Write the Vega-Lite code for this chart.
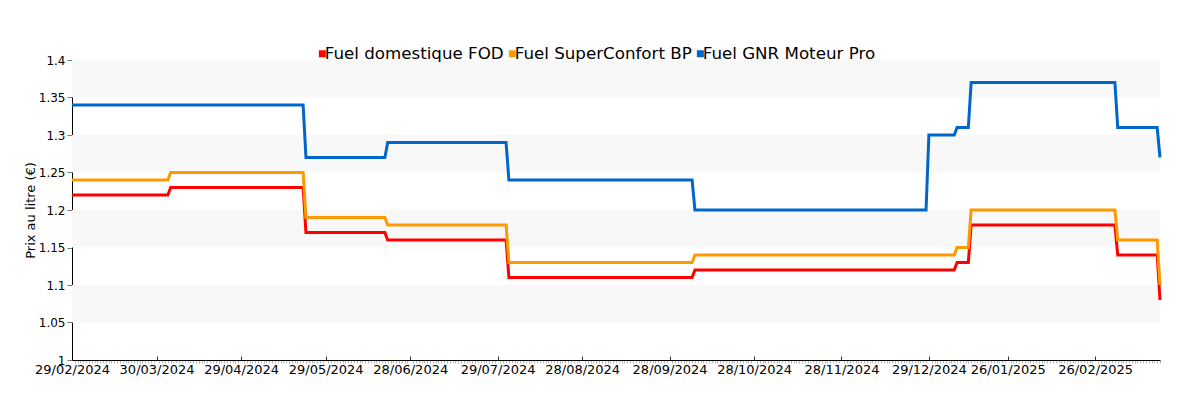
{
  "$schema": "https://vega.github.io/schema/vega-lite/v6.json",
  "width": 1088,
  "height": 300,
  "autosize": {"type": "none"},
  "padding": {"left": 72, "top": 60, "right": 40, "bottom": 40},
  "background": "white",
  "config": {"view": {"stroke": null}, "font": "DejaVu Sans"},
  "datasets": {
    "bands": [
      {"lo": 1.05, "hi": 1.1},
      {"lo": 1.15, "hi": 1.2},
      {"lo": 1.25, "hi": 1.3},
      {"lo": 1.35, "hi": 1.4}
    ],
    "prices": [
      {"date": "2024-02-29", "series": "Fuel domestique FOD", "price": 1.22},
      {"date": "2024-04-03", "series": "Fuel domestique FOD", "price": 1.22},
      {"date": "2024-04-04", "series": "Fuel domestique FOD", "price": 1.23},
      {"date": "2024-05-21", "series": "Fuel domestique FOD", "price": 1.23},
      {"date": "2024-05-22", "series": "Fuel domestique FOD", "price": 1.17},
      {"date": "2024-06-19", "series": "Fuel domestique FOD", "price": 1.17},
      {"date": "2024-06-20", "series": "Fuel domestique FOD", "price": 1.16},
      {"date": "2024-08-01", "series": "Fuel domestique FOD", "price": 1.16},
      {"date": "2024-08-02", "series": "Fuel domestique FOD", "price": 1.11},
      {"date": "2024-10-06", "series": "Fuel domestique FOD", "price": 1.11},
      {"date": "2024-10-07", "series": "Fuel domestique FOD", "price": 1.12},
      {"date": "2025-01-07", "series": "Fuel domestique FOD", "price": 1.12},
      {"date": "2025-01-08", "series": "Fuel domestique FOD", "price": 1.13},
      {"date": "2025-01-12", "series": "Fuel domestique FOD", "price": 1.13},
      {"date": "2025-01-13", "series": "Fuel domestique FOD", "price": 1.18},
      {"date": "2025-03-05", "series": "Fuel domestique FOD", "price": 1.18},
      {"date": "2025-03-06", "series": "Fuel domestique FOD", "price": 1.14},
      {"date": "2025-03-20", "series": "Fuel domestique FOD", "price": 1.14},
      {"date": "2025-03-21", "series": "Fuel domestique FOD", "price": 1.08},

      {"date": "2024-02-29", "series": "Fuel SuperConfort BP", "price": 1.24},
      {"date": "2024-04-03", "series": "Fuel SuperConfort BP", "price": 1.24},
      {"date": "2024-04-04", "series": "Fuel SuperConfort BP", "price": 1.25},
      {"date": "2024-05-21", "series": "Fuel SuperConfort BP", "price": 1.25},
      {"date": "2024-05-22", "series": "Fuel SuperConfort BP", "price": 1.19},
      {"date": "2024-06-19", "series": "Fuel SuperConfort BP", "price": 1.19},
      {"date": "2024-06-20", "series": "Fuel SuperConfort BP", "price": 1.18},
      {"date": "2024-08-01", "series": "Fuel SuperConfort BP", "price": 1.18},
      {"date": "2024-08-02", "series": "Fuel SuperConfort BP", "price": 1.13},
      {"date": "2024-10-06", "series": "Fuel SuperConfort BP", "price": 1.13},
      {"date": "2024-10-07", "series": "Fuel SuperConfort BP", "price": 1.14},
      {"date": "2025-01-07", "series": "Fuel SuperConfort BP", "price": 1.14},
      {"date": "2025-01-08", "series": "Fuel SuperConfort BP", "price": 1.15},
      {"date": "2025-01-12", "series": "Fuel SuperConfort BP", "price": 1.15},
      {"date": "2025-01-13", "series": "Fuel SuperConfort BP", "price": 1.2},
      {"date": "2025-03-05", "series": "Fuel SuperConfort BP", "price": 1.2},
      {"date": "2025-03-06", "series": "Fuel SuperConfort BP", "price": 1.16},
      {"date": "2025-03-20", "series": "Fuel SuperConfort BP", "price": 1.16},
      {"date": "2025-03-21", "series": "Fuel SuperConfort BP", "price": 1.1},

      {"date": "2024-02-29", "series": "Fuel GNR Moteur Pro", "price": 1.34},
      {"date": "2024-05-21", "series": "Fuel GNR Moteur Pro", "price": 1.34},
      {"date": "2024-05-22", "series": "Fuel GNR Moteur Pro", "price": 1.27},
      {"date": "2024-06-19", "series": "Fuel GNR Moteur Pro", "price": 1.27},
      {"date": "2024-06-20", "series": "Fuel GNR Moteur Pro", "price": 1.29},
      {"date": "2024-08-01", "series": "Fuel GNR Moteur Pro", "price": 1.29},
      {"date": "2024-08-02", "series": "Fuel GNR Moteur Pro", "price": 1.24},
      {"date": "2024-10-06", "series": "Fuel GNR Moteur Pro", "price": 1.24},
      {"date": "2024-10-07", "series": "Fuel GNR Moteur Pro", "price": 1.2},
      {"date": "2024-12-28", "series": "Fuel GNR Moteur Pro", "price": 1.2},
      {"date": "2024-12-29", "series": "Fuel GNR Moteur Pro", "price": 1.3},
      {"date": "2025-01-07", "series": "Fuel GNR Moteur Pro", "price": 1.3},
      {"date": "2025-01-08", "series": "Fuel GNR Moteur Pro", "price": 1.31},
      {"date": "2025-01-12", "series": "Fuel GNR Moteur Pro", "price": 1.31},
      {"date": "2025-01-13", "series": "Fuel GNR Moteur Pro", "price": 1.37},
      {"date": "2025-03-05", "series": "Fuel GNR Moteur Pro", "price": 1.37},
      {"date": "2025-03-06", "series": "Fuel GNR Moteur Pro", "price": 1.31},
      {"date": "2025-03-20", "series": "Fuel GNR Moteur Pro", "price": 1.31},
      {"date": "2025-03-21", "series": "Fuel GNR Moteur Pro", "price": 1.27}
    ]
  },
  "layer": [
    {
      "data": {"name": "bands"},
      "mark": {"type": "rect", "color": "#f8f8f8"},
      "encoding": {
        "y": {
          "field": "lo",
          "type": "quantitative",
          "scale": {"domain": [1, 1.4], "nice": false, "zero": false},
          "axis": {
            "values": [1, 1.05, 1.1, 1.15, 1.2, 1.25, 1.3, 1.35, 1.4],
            "format": "~g",
            "title": "Prix au litre (€)",
            "grid": false,
            "domainColor": "#000",
            "tickColor": "#777",
            "tickSize": 5,
            "labelFontSize": 12,
            "labelColor": "#000",
            "labelPadding": 2,
            "titleFontSize": 13,
            "titleFontWeight": "normal",
            "titleColor": "#000",
            "titlePadding": 1
          }
        },
        "y2": {"field": "hi"}
      }
    },
    {
      "data": {"name": "prices"},
      "mark": {"type": "line", "strokeWidth": 3, "interpolate": "linear"},
      "encoding": {
        "x": {
          "field": "date",
          "type": "temporal",
          "scale": {"type": "utc", "nice": false},
          "axis": {
            "title": null,
            "grid": false,
            "tickCount": {"interval": "day", "step": 1},
            "labelExpr": "indexof(['29/02/2024','30/03/2024','29/04/2024','29/05/2024','28/06/2024','29/07/2024','28/08/2024','28/09/2024','28/10/2024','28/11/2024','29/12/2024','26/01/2025','26/02/2025'], utcFormat(datum.value, '%d/%m/%Y')) >= 0 ? utcFormat(datum.value, '%d/%m/%Y') : ''",
            "labelOverlap": false,
            "labelBound": false,
            "labelFlush": false,
            "labelFontSize": 13,
            "labelColor": "#000",
            "labelPadding": {"condition": {"test": "indexof(['29/02/2024','30/03/2024','29/04/2024','29/05/2024','28/06/2024','29/07/2024','28/08/2024','28/09/2024','28/10/2024','28/11/2024','29/12/2024','26/01/2025','26/02/2025'], utcFormat(datum.value, '%d/%m/%Y')) >= 0", "value": 7}, "value": 0},
            "domainColor": "#000",
            "domainWidth": 1,
            "tickColor": {"condition": {"test": "indexof(['29/02/2024','30/03/2024','29/04/2024','29/05/2024','28/06/2024','29/07/2024','28/08/2024','28/09/2024','28/10/2024','28/11/2024','29/12/2024','26/01/2025','26/02/2025'], utcFormat(datum.value, '%d/%m/%Y')) >= 0", "value": "#333"}, "value": "#bbbbbb"},
            "tickSize": {"condition": {"test": "indexof(['29/02/2024','30/03/2024','29/04/2024','29/05/2024','28/06/2024','29/07/2024','28/08/2024','28/09/2024','28/10/2024','28/11/2024','29/12/2024','26/01/2025','26/02/2025'], utcFormat(datum.value, '%d/%m/%Y')) >= 0", "value": -4}, "value": 3}
          }
        },
        "y": {
          "field": "price",
          "type": "quantitative",
          "scale": {"domain": [1, 1.4], "nice": false, "zero": false},
          "axis": {
            "values": [1, 1.05, 1.1, 1.15, 1.2, 1.25, 1.3, 1.35, 1.4],
            "format": "~g",
            "title": "Prix au litre (€)",
            "grid": false,
            "domainColor": "#000",
            "tickColor": "#777",
            "tickSize": 5,
            "labelFontSize": 12,
            "labelColor": "#000",
            "labelPadding": 2,
            "titleFontSize": 13,
            "titleFontWeight": "normal",
            "titleColor": "#000",
            "titlePadding": 1
          }
        },
        "color": {
          "field": "series",
          "type": "nominal",
          "scale": {
            "domain": ["Fuel domestique FOD", "Fuel SuperConfort BP", "Fuel GNR Moteur Pro"],
            "range": ["#ff0000", "#ff9900", "#0066cc"]
          },
          "legend": {
            "orient": "none",
            "legendX": 242,
            "legendY": -15,
            "direction": "horizontal",
            "title": null,
            "symbolType": "square",
            "symbolSize": 30,
            "labelFontSize": 16.7,
            "labelLimit": 0,
            "labelColor": "#000",
            "labelOffset": -6,
            "columnPadding": 0,
            "encode": {
              "symbols": {
                "update": {
                  "fill": {"field": "value", "scale": "color"},
                  "stroke": {"value": "transparent"}
                }
              }
            }
          }
        }
      }
    }
  ]
}
